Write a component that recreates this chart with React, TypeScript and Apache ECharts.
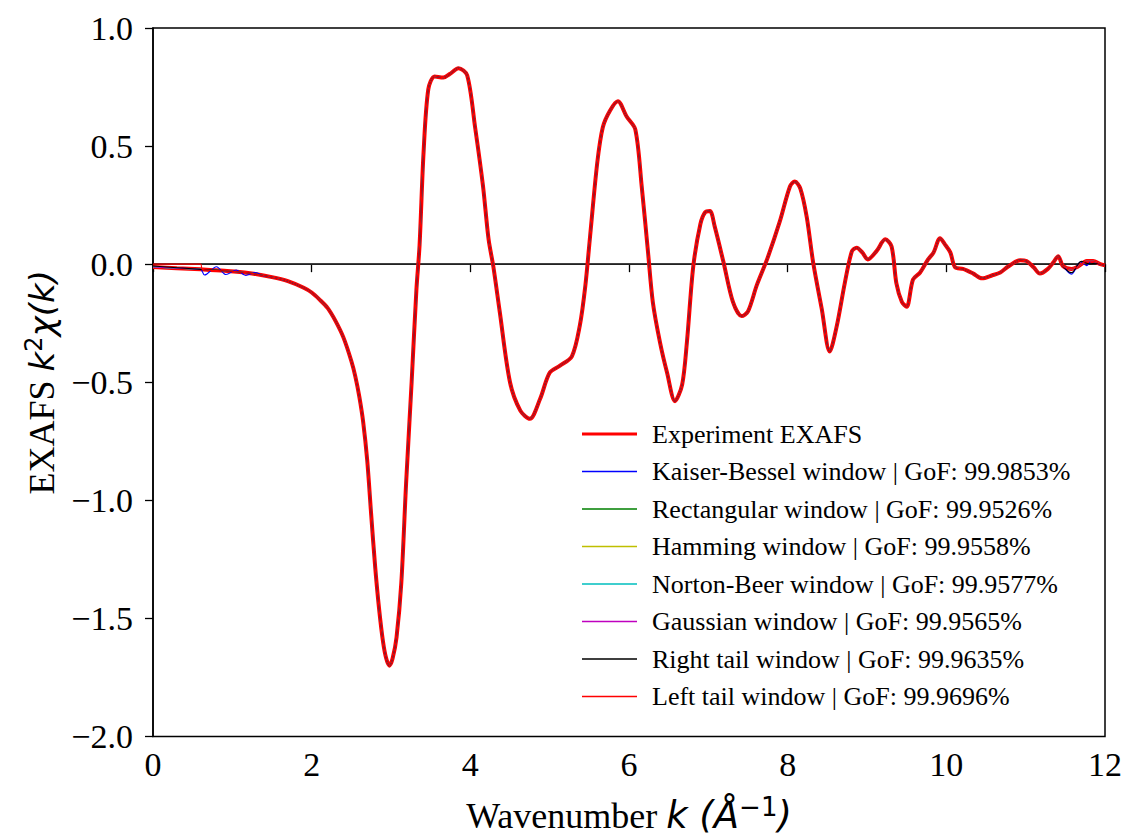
import React, { useEffect, useRef } from "react";
import * as echarts from "echarts";

const kValues = [
  0.0, 0.3, 0.6, 0.9, 1.2, 1.5, 1.7, 1.9, 2.0, 2.1, 2.2, 2.3, 2.4, 2.5, 2.55, 2.6, 2.65, 2.7, 2.75,
  2.8, 2.85, 2.9, 2.94, 2.98, 3.02, 3.07, 3.13, 3.19, 3.26, 3.32, 3.36, 3.41, 3.47, 3.55, 3.66, 3.74,
  3.85, 3.96, 4.06, 4.16, 4.23, 4.29, 4.37, 4.5, 4.63, 4.75, 4.88, 5.0, 5.13, 5.28, 5.38, 5.45, 5.51,
  5.6, 5.67, 5.76, 5.86, 5.97, 6.08, 6.16, 6.24, 6.3, 6.39, 6.48, 6.58, 6.67, 6.73, 6.81, 6.9, 6.96,
  7.02, 7.08, 7.19, 7.31, 7.42, 7.5, 7.61, 7.74, 7.9, 8.03, 8.09, 8.16, 8.24, 8.32, 8.43, 8.53, 8.62,
  8.72, 8.81, 8.87, 8.94, 9.01, 9.12, 9.23, 9.31, 9.37, 9.44, 9.5, 9.58, 9.67, 9.77, 9.84, 9.92, 9.98,
  10.05, 10.11, 10.21, 10.34, 10.45, 10.58, 10.68, 10.78, 10.93, 11.01, 11.1, 11.18, 11.28, 11.35,
  11.41, 11.47, 11.58, 11.66, 11.77, 11.85, 11.94, 12.0,
];
const experimentValues = [
  -0.012, -0.017, -0.022, -0.028, -0.037, -0.055, -0.072, -0.1, -0.12, -0.15, -0.185, -0.24, -0.31,
  -0.41, -0.475, -0.56, -0.67, -0.83, -1.06, -1.28, -1.46, -1.6, -1.67, -1.7, -1.67, -1.58, -1.35,
  -0.93, -0.5, -0.11, 0.08, 0.47, 0.74, 0.795, 0.79, 0.805, 0.83, 0.8, 0.58, 0.33, 0.105, -0.01, -0.2,
  -0.5, -0.62, -0.655, -0.57, -0.46, -0.43, -0.39, -0.26, -0.09, 0.12, 0.43, 0.58, 0.65, 0.69, 0.625,
  0.57, 0.33, 0.05, -0.16, -0.33, -0.46, -0.58, -0.51, -0.33, -0.01, 0.17, 0.22, 0.225, 0.16, 0.01,
  -0.16, -0.22, -0.2, -0.09, 0.02, 0.18, 0.33, 0.35, 0.32, 0.2, 0.01, -0.19, -0.37, -0.26, -0.08,
  0.055, 0.07, 0.05, 0.02, 0.055, 0.105, 0.075, -0.08, -0.16, -0.18, -0.065, -0.035, 0.02, 0.05,
  0.11, 0.085, 0.05, -0.013, -0.02, -0.04, -0.06, -0.047, -0.035, -0.01, 0.017, 0.013, -0.013, -0.04,
  -0.02, 0.008, 0.034, -0.008, -0.02, -0.01, 0.013, 0.013, 0.0, -0.005,
];

// Segments where the fitted windows visibly depart from the experiment
const kaiserLowK = [0.0, 0.3, 0.6, 0.65, 0.8, 0.92, 1.05, 1.17, 1.29, 1.4];
const kaiserLowV = [-0.012, -0.017, -0.022, -0.046, -0.011, -0.044, -0.025, -0.048, -0.036, -0.05];
const kaiserHighK = [11.47, 11.58, 11.69, 11.77, 11.83, 11.9];
const kaiserHighV = [-0.008, -0.042, 0.01, -0.006, 0.014, 0.004];
const rightTailLowK = [0.0, 0.3, 0.6];
const rightTailLowV = [-0.008, -0.015, -0.022];
const rightTailHighK = [11.47, 11.58, 11.7, 11.8, 11.9];
const rightTailHighV = [-0.008, -0.036, 0.012, 0.002, 0.004];
const leftTailLowK = [0.0, 0.6, 0.62];
const leftTailLowV = [0.0, 0.0, -0.022];

const legendNames = [
  "Experiment EXAFS",
  "Kaiser-Bessel window | GoF: 99.9853%",
  "Rectangular window | GoF: 99.9526%",
  "Hamming window | GoF: 99.9558%",
  "Norton-Beer window | GoF: 99.9577%",
  "Gaussian window | GoF: 99.9565%",
  "Right tail window | GoF: 99.9635%",
  "Left tail window | GoF: 99.9696%",
];
const lineColors = ["#ff0000", "#0000ff", "#008000", "#bfbf00", "#00bfbf", "#bf00bf", "#000000", "#ff0000"];

const xTicks = [0, 2, 4, 6, 8, 10, 12];
const yTicks = [-2.0, -1.5, -1.0, -0.5, 0.0, 0.5, 1.0];

// Legend line glyphs: a bar inside a 55x14 box (tiny corner dots keep the box size)
const THICK_ICON = "path://M0,0H0.01V0.01H0Z M0,5.5H55V8.5H0Z M54.99,13.99H55V14H54.99Z";
const THIN_ICON = "path://M0,0H0.01V0.01H0Z M0,6.2H55V7.8H0Z M54.99,13.99H55V14H54.99Z";

function pairs(ks: number[], vs: number[]) {
  return ks.map((k, i) => [k, vs[i]]);
}

function buildFit(lowK: number[], lowV: number[], highK: number[], highV: number[]) {
  const out: number[][] = [];
  const lowMax = lowK.length ? lowK[lowK.length - 1] : -1;
  const highMin = highK.length ? highK[0] : 99;
  const highMax = highK.length ? highK[highK.length - 1] : 99;
  lowK.forEach((k, i) => out.push([k, lowV[i]]));
  kValues.forEach((k, i) => {
    if (k > lowMax && k < highMin) out.push([k, experimentValues[i]]);
  });
  highK.forEach((k, i) => out.push([k, highV[i]]));
  kValues.forEach((k, i) => {
    if (k > highMax) out.push([k, experimentValues[i]]);
  });
  return out;
}

const SERIF = "'Liberation Serif', 'Times New Roman', serif";
const MATH = "'DejaVu Sans', sans-serif";

export default function App() {
  const ref = useRef<HTMLDivElement>(null);

  useEffect(() => {
    if (!ref.current) return;
    const chart = echarts.init(ref.current, undefined, { renderer: "svg" });

    const fitData = [
      buildFit(kaiserLowK, kaiserLowV, kaiserHighK, kaiserHighV),
      buildFit([], [], [], []),
      buildFit([], [], [], []),
      buildFit([], [], [], []),
      buildFit([], [], [], []),
      buildFit(rightTailLowK, rightTailLowV, rightTailHighK, rightTailHighV),
      buildFit(leftTailLowK, leftTailLowV, [], []),
    ];

    const series: any[] = [
      {
        name: legendNames[0],
        type: "line",
        data: pairs(kValues, experimentValues),
        showSymbol: false,
        symbol: "none",
        smooth: 0.3,
        lineStyle: { color: lineColors[0], width: 4 },
        itemStyle: { color: lineColors[0] },
        z: 2,
        markLine: {
          silent: true,
          symbol: "none",
          label: { show: false },
          lineStyle: { color: "#222", width: 1.2, type: "solid" },
          data: [{ yAxis: 0 }],
          z: 1,
        },
      },
    ];
    fitData.forEach((d, i) => {
      series.push({
        name: legendNames[i + 1],
        type: "line",
        data: d,
        showSymbol: false,
        symbol: "none",
        smooth: 0.3,
        lineStyle: { color: lineColors[i + 1], width: 1.1 },
        itemStyle: { color: lineColors[i + 1] },
        z: 3 + i,
      });
    });

    chart.setOption({
      animation: false,
      backgroundColor: "#ffffff",
      grid: {
        left: 153,
        right: 21,
        top: 28,
        bottom: 100,
        show: true,
        borderColor: "#000",
        borderWidth: 1.5,
        backgroundColor: "transparent",
      },
      legend: {
        orient: "vertical",
        left: 577,
        top: 416,
        itemWidth: 55,
        itemHeight: 14,
        itemGap: 11.5,
        data: legendNames.map((n, i) => ({
          name: n,
          icon: i === 0 ? THICK_ICON : THIN_ICON,
          itemStyle: { color: lineColors[i], borderWidth: 0, opacity: 1 },
        })),
        textStyle: {
          fontFamily: SERIF,
          fontSize: 26,
          color: "#000",
          padding: [0, 0, 0, 10],
        },
        selectedMode: false,
      },
      xAxis: {
        type: "value",
        min: 0,
        max: 12,
        interval: 2,
        name: "{r|Wavenumber }{i|k (Å}{s|−1}{i|)}",
        nameLocation: "middle",
        nameGap: 57,
        nameTextStyle: {
          rich: {
            r: { fontFamily: SERIF, fontSize: 36, color: "#000" },
            i: { fontFamily: MATH, fontStyle: "italic", fontSize: 37, color: "#000" },
            s: { fontFamily: MATH, fontSize: 26, color: "#000", padding: [0, 0, 18, 0] },
          },
        },
        axisLine: { show: true, lineStyle: { color: "#000", width: 1.5 } },
        axisTick: { show: true, inside: false, length: 8, lineStyle: { color: "#000", width: 1.3 } },
        axisLabel: {
          fontFamily: SERIF,
          fontSize: 34,
          color: "#000",
          margin: 11,
          formatter: (v: number) => (xTicks.includes(v) ? String(v) : ""),
        },
        splitLine: { show: false },
      },
      yAxis: {
        type: "value",
        min: -2,
        max: 1,
        interval: 0.5,
        name: "{r|EXAFS }{i|k}{s|2}{i|χ(k)}",
        nameLocation: "middle",
        nameRotate: 90,
        nameGap: 90,
        nameTextStyle: {
          rich: {
            r: { fontFamily: SERIF, fontSize: 36, color: "#000" },
            i: { fontFamily: MATH, fontStyle: "italic", fontSize: 34, color: "#000" },
            s: { fontFamily: MATH, fontSize: 24, color: "#000", padding: [0, 0, 16, 0] },
          },
        },
        axisLine: { show: true, lineStyle: { color: "#000", width: 1.5 } },
        axisTick: { show: true, inside: false, length: 8, lineStyle: { color: "#000", width: 1.3 } },
        axisLabel: {
          fontFamily: SERIF,
          fontSize: 34,
          color: "#000",
          margin: 20,
          formatter: (v: number) => {
            if (!yTicks.some((t) => Math.abs(t - v) < 1e-9)) return "";
            return (v < 0 ? "\u2212" : "") + Math.abs(v).toFixed(1);
          },
        },
        splitLine: { show: false },
      },
      series,
    });

    return () => {
      chart.dispose();
    };
  }, []);

  return (
    <div
      ref={ref}
      style={{ position: "fixed", left: 0, top: 0, width: 1126, height: 839, background: "#fff" }}
    />
  );
}
